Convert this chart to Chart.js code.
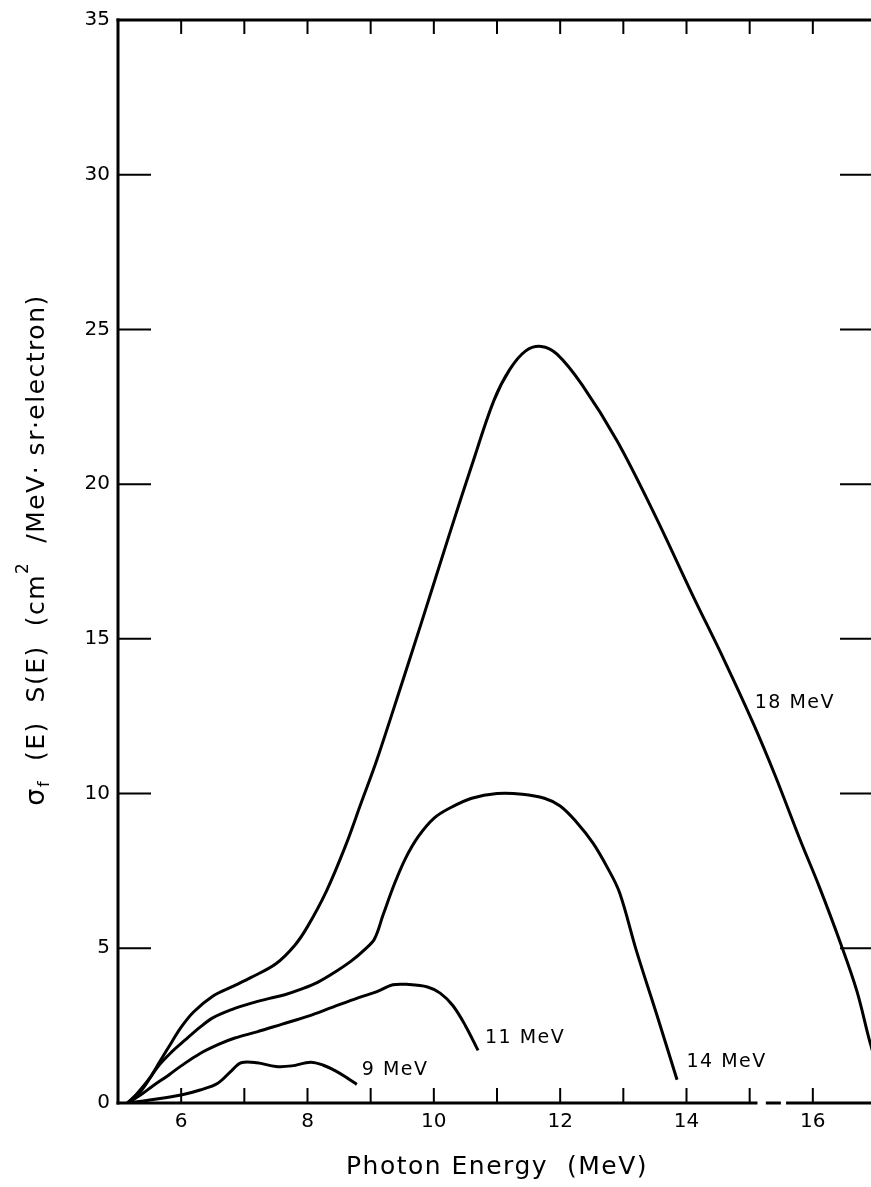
<!DOCTYPE html>
<html>
<head>
<meta charset="utf-8">
<script src="https://cdn.jsdelivr.net/npm/chart.js@4.4.1/dist/chart.umd.min.js"></script>
<style>
    html, body { margin: 0; padding: 0; background: #fff; overflow: hidden; }
    #caixa { width: 900px; height: 1187px; }
</style>
</head>
<body>
<div id="caixa"><canvas id="grafico" width="900" height="1187"></canvas></div>
<script>
// energias (MeV) e valores de sigma_f(E) S(E) para cada energia do feixe
const energia9 = [5.15, 5.5, 6.0, 6.3, 6.58, 6.8, 6.95, 7.2, 7.5, 7.75, 8.05, 8.25, 8.45, 8.62, 8.78];
const valores9 = [0, 0.1, 0.26, 0.42, 0.64, 1.05, 1.3, 1.3, 1.18, 1.2, 1.32, 1.22, 1.03, 0.82, 0.6];

const energia11 = [5.15, 5.35, 5.55, 5.8, 6.0, 6.3, 6.6, 6.85, 7.2, 7.6, 8.0, 8.4, 8.8, 9.1, 9.35, 9.6, 9.9, 10.1, 10.3, 10.5, 10.7];
const valores11 = [0, 0.25, 0.55, 0.9, 1.2, 1.6, 1.9, 2.1, 2.3, 2.55, 2.8, 3.1, 3.4, 3.6, 3.82, 3.83, 3.75, 3.55, 3.15, 2.5, 1.7];

const energia14 = [5.15, 5.35, 5.63, 5.85, 6.06, 6.3, 6.5, 6.8, 7.1, 7.4, 7.64, 7.9, 8.16, 8.45, 8.7, 8.9, 9.06, 9.2, 9.38, 9.55, 9.75, 10.0, 10.27, 10.6, 11.0, 11.4, 11.75, 12.0, 12.25, 12.52, 12.75, 12.94, 13.21, 13.53, 13.85];
const valores14 = [0, 0.35, 1.17, 1.65, 2.03, 2.45, 2.75, 3.02, 3.22, 3.38, 3.5, 3.68, 3.9, 4.25, 4.6, 4.95, 5.3, 6.1, 7.1, 7.9, 8.6, 9.2, 9.55, 9.85, 10.0, 9.98, 9.85, 9.6, 9.1, 8.4, 7.6, 6.8, 4.9, 2.85, 0.75];

const energia18 = [5.15, 5.3, 5.5, 5.65, 5.8, 6.0, 6.2, 6.5, 6.8, 7.1, 7.5, 7.8, 8.0, 8.3, 8.6, 8.85, 9.1, 9.5, 9.8, 10.25, 10.6, 10.95, 11.2, 11.45, 11.7, 11.95, 12.35, 12.9, 13.5, 14.1, 14.6, 15.05, 15.4, 15.8, 16.1, 16.45, 16.7, 16.9, 17.1];
const valores18 = [0, 0.3, 0.8, 1.3, 1.8, 2.45, 2.95, 3.45, 3.75, 4.05, 4.5, 5.1, 5.7, 6.85, 8.3, 9.7, 11.1, 13.6, 15.5, 18.4, 20.6, 22.7, 23.7, 24.3, 24.45, 24.2, 23.2, 21.4, 19.0, 16.4, 14.3, 12.3, 10.6, 8.5, 7.0, 5.1, 3.6, 2.0, 0.6];

const rotulosX = [6, 8, 10, 12, 14, 16];
const rotulosY = [0, 5, 10, 15, 20, 25, 30, 35];

const FONTE = "'DejaVu Sans', sans-serif";

function pontos(es, vs) {
    return es.map((e, i) => ({ x: e, y: vs[i] }));
}

function curva(nome, es, vs) {
    return {
        label: nome,
        data: pontos(es, vs),
        borderColor: '#000',
        borderWidth: 3,
        pointRadius: 0,
        fill: false,
        tension: 0.35
    };
}

// nomes das curvas, ancorados em coordenadas do grafico
const nomesCurvas = [
    { texto: '9 MeV', e: 8.86, v: 1.06 },
    { texto: '11 MeV', e: 10.81, v: 2.1 },
    { texto: '14 MeV', e: 14.0, v: 1.32 },
    { texto: '18 MeV', e: 15.08, v: 12.94 }
];

// moldura com marcas para dentro, nomes das curvas e titulos
const moldura = {
    id: 'moldura',
    afterDraw(chart) {
        const ctx = chart.ctx;
        const a = chart.chartArea;
        const x = chart.scales.x;
        const y = chart.scales.y;

        function linha(x1, y1, x2, y2) {
            ctx.beginPath();
            ctx.moveTo(x1, y1);
            ctx.lineTo(x2, y2);
            ctx.stroke();
        }

        ctx.save();
        ctx.strokeStyle = '#000';
        ctx.lineCap = 'square';
        ctx.lineWidth = 3;
        linha(a.left, a.top, a.left, a.bottom);
        linha(a.left, a.top, a.right, a.top);
        linha(a.right, a.top, a.right, a.bottom);
        // eixo de baixo com o trecho falhado perto de 15
        [[5, 15.1], [15.28, 15.47], [15.6, 17]].forEach(t => {
            linha(x.getPixelForValue(t[0]), a.bottom, x.getPixelForValue(t[1]), a.bottom);
        });

        ctx.lineCap = 'butt';
        ctx.lineWidth = 2;
        for (let e = 6; e <= 16; e++) {
            const px = x.getPixelForValue(e);
            linha(px, a.bottom, px, a.bottom - 15);
            linha(px, a.top, px, a.top + 14);
        }
        for (let v = 5; v <= 30; v += 5) {
            const py = y.getPixelForValue(v);
            linha(a.left, py, a.left + 33, py);
            linha(a.right - 36, py, a.right, py);
        }

        ctx.fillStyle = '#000';
        ctx.letterSpacing = '1.5px';
        ctx.font = '19px ' + FONTE;
        ctx.textAlign = 'left';
        ctx.textBaseline = 'middle';
        nomesCurvas.forEach(n => {
            ctx.fillText(n.texto, x.getPixelForValue(n.e), y.getPixelForValue(n.v));
        });

        // titulo do eixo x
        ctx.font = '25px ' + FONTE;
        ctx.textAlign = 'center';
        ctx.fillText('Photon Energy  (MeV)', (a.left + a.right) / 2, 1167);

        // titulo do eixo y, com indice e expoente
        const partes = [
            { t: '\u03c3', tam: 27, dy: 0 },
            { t: 'f', tam: 16, dy: 8 },
            { t: '  (E)  S(E)  (cm', tam: 25, dy: 0 },
            { t: '2', tam: 17, dy: -13 },
            { t: '  /MeV\u00b7 sr\u00b7electron)', tam: 25, dy: 0 }
        ];
        let total = 0;
        partes.forEach(p => {
            ctx.font = p.tam + 'px ' + FONTE;
            p.w = ctx.measureText(p.t).width;
            total += p.w;
        });
        ctx.translate(37, 550);
        ctx.rotate(-Math.PI / 2);
        ctx.textAlign = 'left';
        let pos = -total / 2;
        partes.forEach(p => {
            ctx.font = p.tam + 'px ' + FONTE;
            ctx.fillText(p.t, pos, p.dy);
            pos += p.w;
        });
        ctx.restore();
    }
};

new Chart(document.getElementById('grafico'), {
    type: 'line',
    data: {
        datasets: [
            curva('9 MeV', energia9, valores9),
            curva('11 MeV', energia11, valores11),
            curva('14 MeV', energia14, valores14),
            curva('18 MeV', energia18, valores18)
        ]
    },
    options: {
        responsive: false,
        animation: false,
        layout: { padding: { top: 18, right: 24, left: 0, bottom: 0 } },
        plugins: {
            legend: { display: false },
            tooltip: { enabled: false }
        },
        scales: {
            x: {
                type: 'linear',
                min: 5,
                max: 17,
                afterFit: s => { s.height = 84; },
                grid: { display: false, drawTicks: false },
                border: { display: false },
                ticks: {
                    stepSize: 1,
                    autoSkip: false,
                    maxRotation: 0,
                    padding: 7,
                    color: '#000',
                    font: { family: FONTE, size: 20 },
                    callback: v => rotulosX.includes(v) ? String(v) : ''
                }
            },
            y: {
                min: 0,
                max: 35,
                afterFit: s => { s.width = 118; },
                grid: { display: false, drawTicks: false },
                border: { display: false },
                ticks: {
                    stepSize: 5,
                    padding: 8,
                    color: '#000',
                    font: { family: FONTE, size: 20 },
                    callback: v => rotulosY.includes(v) ? String(v) : ''
                }
            }
        }
    },
    plugins: [moldura]
});
</script>
</body>
</html>
